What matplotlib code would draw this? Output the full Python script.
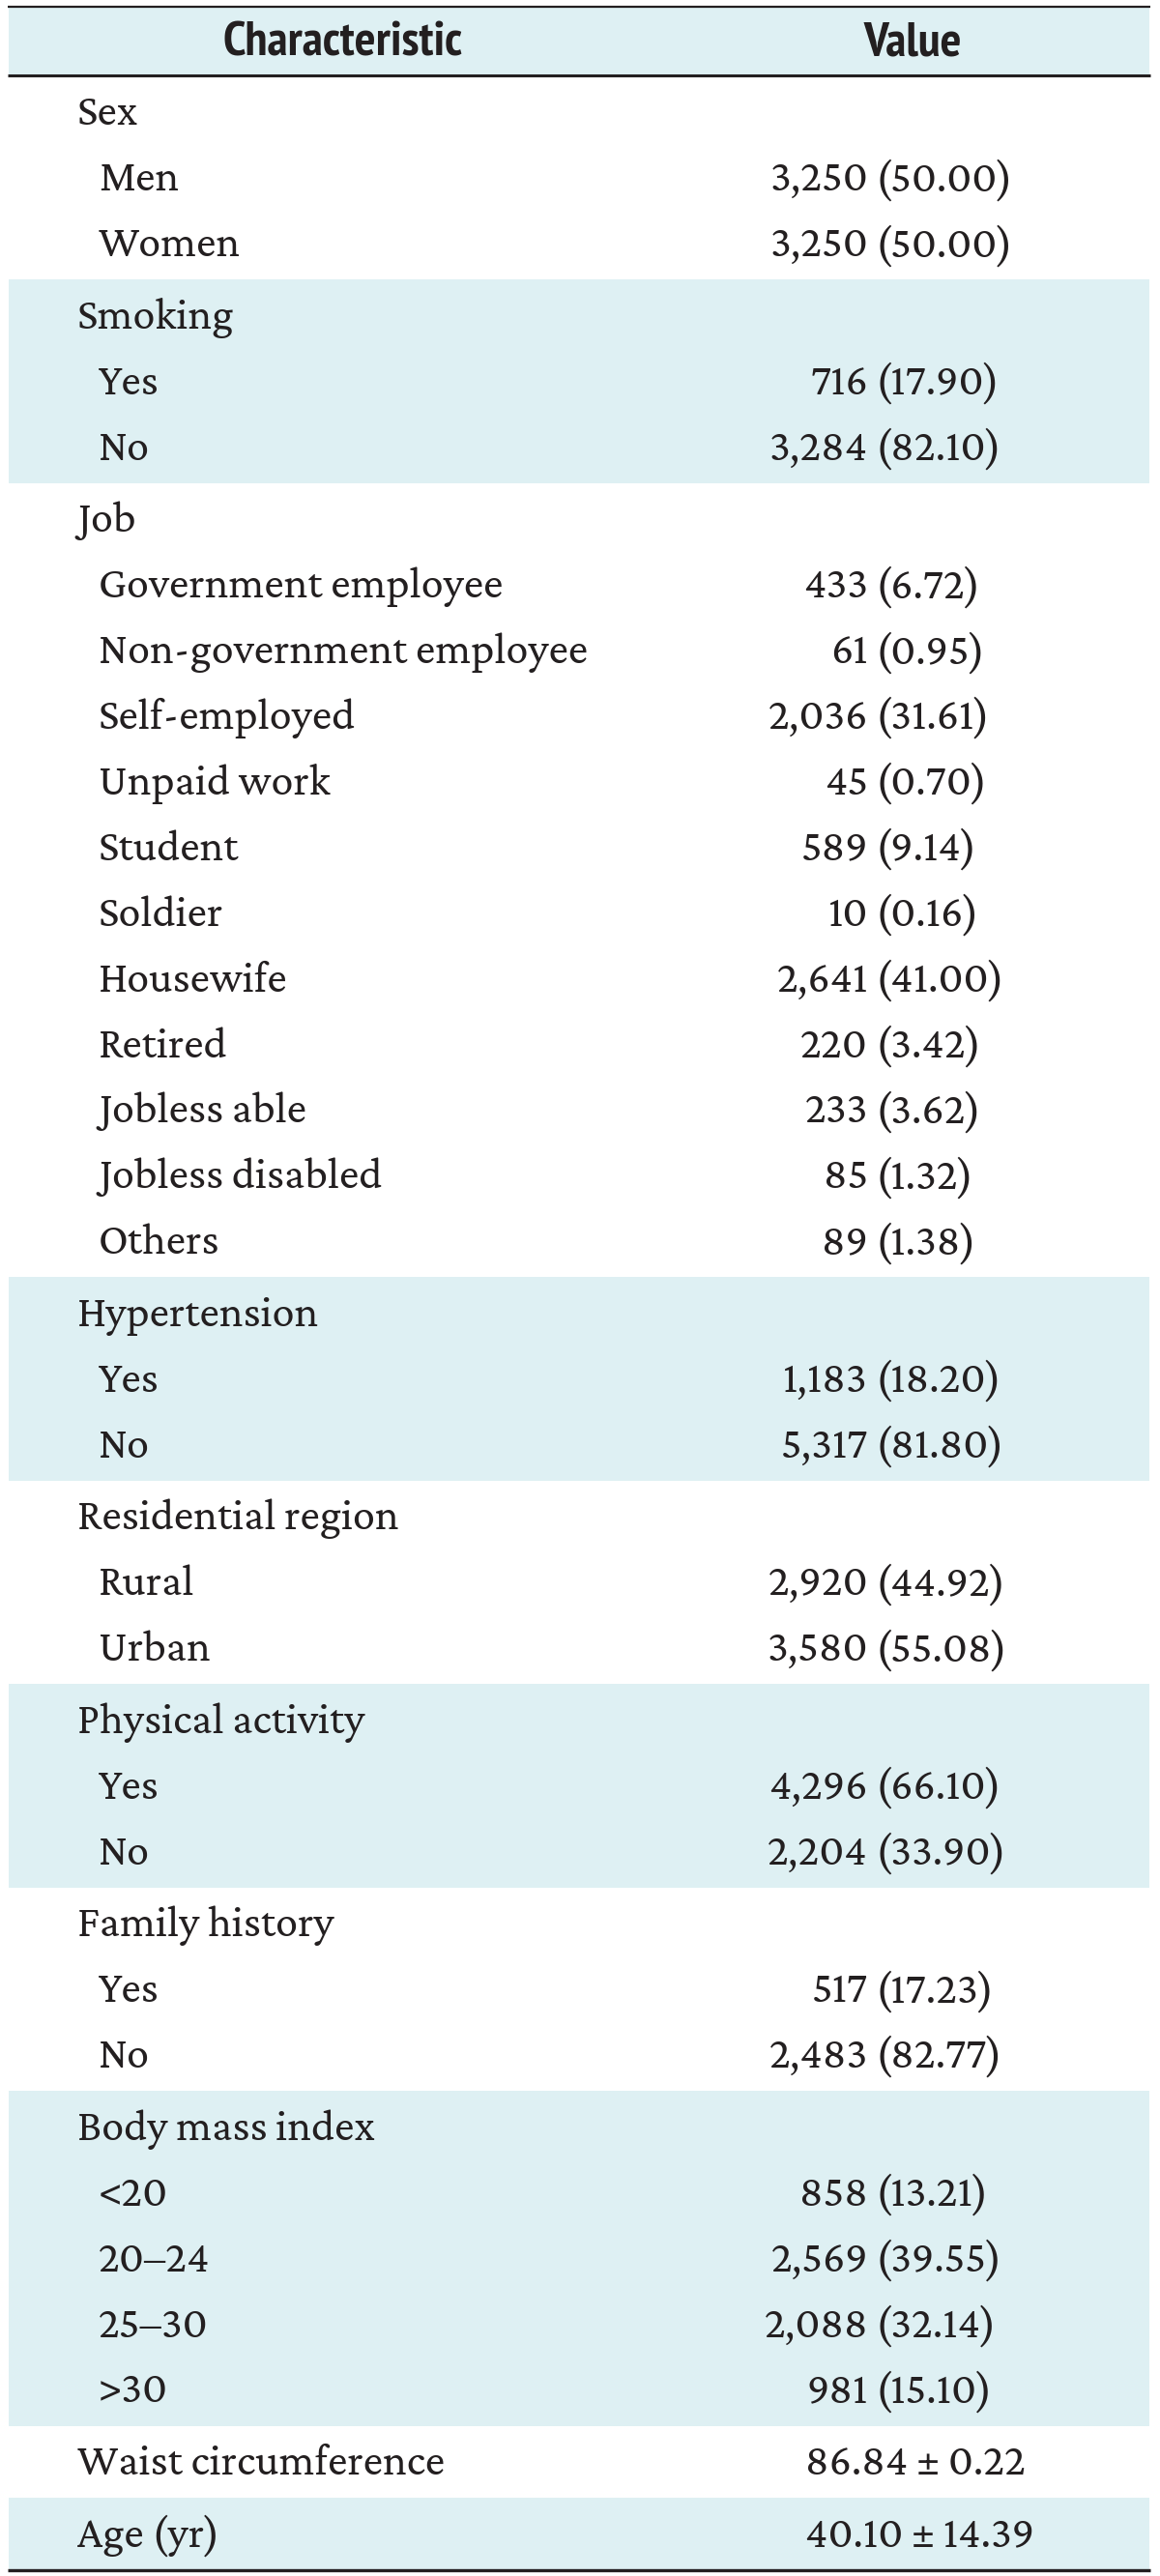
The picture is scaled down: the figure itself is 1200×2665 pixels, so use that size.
import matplotlib
matplotlib.use("Agg")
import matplotlib.pyplot as plt
from matplotlib import font_manager as fm
from matplotlib.patches import Rectangle

# ---------------- data ----------------
header_labels = ["Characteristic", "Value"]

group_names = ["Sex", "Smoking", "Job", "Hypertension", "Residential region",
               "Physical activity", "Family history", "Body mass index",
               "Waist circumference", "Age (yr)"]

sex_labels = ["Men", "Women"]
sex_n = [3250, 3250]
sex_pct = [50.00, 50.00]

smoking_labels = ["Yes", "No"]
smoking_n = [716, 3284]
smoking_pct = [17.90, 82.10]

job_labels = ["Government employee", "Non-government employee", "Self-employed",
              "Unpaid work", "Student", "Soldier", "Housewife", "Retired",
              "Jobless able", "Jobless disabled", "Others"]
job_n = [433, 61, 2036, 45, 589, 10, 2641, 220, 233, 85, 89]
job_pct = [6.72, 0.95, 31.61, 0.70, 9.14, 0.16, 41.00, 3.42, 3.62, 1.32, 1.38]

hyper_labels = ["Yes", "No"]
hyper_n = [1183, 5317]
hyper_pct = [18.20, 81.80]

region_labels = ["Rural", "Urban"]
region_n = [2920, 3580]
region_pct = [44.92, 55.08]

activity_labels = ["Yes", "No"]
activity_n = [4296, 2204]
activity_pct = [66.10, 33.90]

family_labels = ["Yes", "No"]
family_n = [517, 2483]
family_pct = [17.23, 82.77]

bmi_labels = ["<20", "20\u201324", "25\u201330", ">30"]
bmi_n = [858, 2569, 2088, 981]
bmi_pct = [13.21, 39.55, 32.14, 15.10]

waist_mean, waist_sd = 86.84, 0.22
age_mean, age_sd = 40.10, 14.39

shaded_groups = ["Smoking", "Hypertension", "Physical activity", "Body mass index", "Age (yr)"]

# ---------------- fonts ----------------
available = {f.name for f in fm.fontManager.ttflist}
def pick(prefs):
    for p in prefs:
        if p in available:
            return p
    return "DejaVu Sans"

serif = pick(["Crimson Pro", "Crimson Text", "Source Serif 4", "Spectral", "Liberation Serif", "DejaVu Serif"])
sans = pick(["PT Sans Narrow", "Fira Sans Condensed", "Sofia Sans Semi Condensed",
             "Liberation Sans Narrow", "Open Sans", "DejaVu Sans"])

TEXT = "#231f20"
BAND = "#def0f3"

# ---------------- figure ----------------
W, H = 1200, 2665
fig = plt.figure(figsize=(W / 100, H / 100), dpi=100)
ax = fig.add_axes([0, 0, 1, 1])
ax.set_xlim(0, W)
ax.set_ylim(H, 0)
ax.axis("off")
renderer = fig.canvas.get_renderer()

def fit_size(txt, family, weight, target_w, base=30):
    t = ax.text(0, 0, txt, fontsize=base, family=family, weight=weight)
    w = t.get_window_extent(renderer).width
    t.remove()
    return base * target_w / w

body_fs = fit_size("Non-government employee", serif, "normal", 505)
head_fs = fit_size("Characteristic", sans, "semibold", 247)

# layout
x0, x1 = 8, 1190
y_head_top, y_head_bot = 7, 78
y_body_top, y_body_bot = 79, 2659
label_x, sub_x = 80, 102
count_right, pct_left, msd_left = 898, 906, 833

groups = [
    ("Sex", sex_labels, sex_n, sex_pct),
    ("Smoking", smoking_labels, smoking_n, smoking_pct),
    ("Job", job_labels, job_n, job_pct),
    ("Hypertension", hyper_labels, hyper_n, hyper_pct),
    ("Residential region", region_labels, region_n, region_pct),
    ("Physical activity", activity_labels, activity_n, activity_pct),
    ("Family history", family_labels, family_n, family_pct),
    ("Body mass index", bmi_labels, bmi_n, bmi_pct),
    ("Waist circumference", [], [], []),
    ("Age (yr)", [], [], []),
]
msd = {"Waist circumference": (waist_mean, waist_sd), "Age (yr)": (age_mean, age_sd)}

n_rows = sum(1 + len(g[1]) for g in groups)
pad_frac = 0.1
row_h = (y_body_bot - y_body_top) / (n_rows + pad_frac * len(groups))
pad = pad_frac * row_h / 2

# header band
ax.add_patch(Rectangle((x0 + 1, y_head_top), x1 - x0 - 2, y_head_bot - y_head_top,
                       facecolor=BAND, edgecolor="none", zorder=0))
ax.text(355, 58, header_labels[0], family=sans, weight="semibold", fontsize=head_fs,
        color=TEXT, ha="center", va="baseline")
ax.text(944, 58, header_labels[1], family=sans, weight="semibold", fontsize=head_fs,
        color=TEXT, ha="center", va="baseline")

y = y_body_top
for name, labels, ns, pcts in groups:
    nr = 1 + len(labels)
    bh = nr * row_h + 2 * pad
    if name in shaded_groups:
        ax.add_patch(Rectangle((x0 + 1, y), x1 - x0 - 2, bh, facecolor=BAND,
                               edgecolor="none", zorder=0))
    cy = y + pad + row_h / 2
    base = cy + 13
    ax.text(label_x, base, name, family=serif, fontsize=body_fs, color=TEXT,
            ha="left", va="baseline")
    if name in msd:
        m, s = msd[name]
        ax.text(msd_left, base, f"{m:.2f} \u00b1 {s:.2f}", family=serif,
                fontsize=body_fs, color=TEXT, ha="left", va="baseline")
    for i, (lab, n, p) in enumerate(zip(labels, ns, pcts)):
        base = cy + (i + 1) * row_h + 13
        ax.text(sub_x, base, lab, family=serif, fontsize=body_fs, color=TEXT,
                ha="left", va="baseline")
        ax.text(count_right, base, f"{n:,}", family=serif, fontsize=body_fs,
                color=TEXT, ha="right", va="baseline")
        ax.text(pct_left, base, f"({p:.2f})", family=serif, fontsize=body_fs,
                color=TEXT, ha="left", va="baseline")
    y += bh

# rules
ax.plot([x0, x1], [y_head_top, y_head_top], color="#231f20", lw=1.6, solid_capstyle="butt")
ax.plot([x0, x1], [y_head_bot, y_head_bot], color="#231f20", lw=2.2, solid_capstyle="butt")
ax.plot([x0, x1], [y_body_bot, y_body_bot], color="#231f20", lw=2.4, solid_capstyle="butt")

fig.savefig("out.png", dpi=100, facecolor="white")
